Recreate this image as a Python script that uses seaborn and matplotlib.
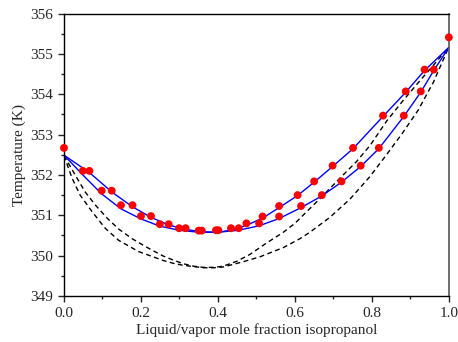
import matplotlib
matplotlib.use("Agg")
import matplotlib.pyplot as plt
import numpy as np
import pandas as pd
import seaborn as sns
from matplotlib.ticker import MultipleLocator

# experimental points (pairs of liquid / vapor compositions at one temperature)
exp_T = [352.67, 352.10, 351.61, 351.25, 350.98, 350.78, 350.68, 350.62, 350.63,
         350.68, 350.80, 350.97, 351.23, 351.50, 351.84, 352.23, 352.67, 353.47,
         354.07, 354.61, 355.41]
exp_x1 = [0.000, 0.049, 0.098, 0.148, 0.200, 0.249, 0.299, 0.350, 0.395,
          0.434, 0.474, 0.516, 0.559, 0.607, 0.650, 0.698, 0.751, 0.829,
          0.888, 0.937, 1.000]
exp_x2 = [None, 0.066, 0.124, 0.178, 0.226, 0.272, 0.316, 0.358, 0.401,
          0.454, 0.507, 0.559, 0.616, 0.670, 0.721, 0.771, 0.818, 0.883,
          0.927, 0.961, None]

# model (blue, solid)
dew_x = [0.0, 0.066, 0.124, 0.178, 0.226, 0.272, 0.316, 0.358, 0.40, 0.434,
         0.474, 0.516, 0.559, 0.607, 0.650, 0.698, 0.751, 0.829, 0.888, 0.937, 1.0]
dew_T = [352.49, 352.06, 351.58, 351.21, 350.95, 350.76, 350.65, 350.59, 350.58, 350.63,
         350.75, 350.93, 351.19, 351.49, 351.82, 352.21, 352.65, 353.45, 354.05, 354.59, 355.16]
bub_x = [0.0, 0.049, 0.098, 0.148, 0.200, 0.249, 0.299, 0.350, 0.40, 0.454,
         0.507, 0.559, 0.616, 0.670, 0.721, 0.771, 0.818, 0.883, 0.927, 0.961, 1.0]
bub_T = [352.49, 352.00, 351.53, 351.16, 350.91, 350.73, 350.63, 350.58, 350.58, 350.63,
         350.74, 350.92, 351.19, 351.48, 351.82, 352.21, 352.65, 353.45, 354.05, 354.59, 355.16]

# model (black, dashed)
dash_up_x = [0.0, 0.029, 0.055, 0.081, 0.112, 0.142, 0.177, 0.211, 0.232, 0.258, 0.284,
             0.31, 0.336, 0.362, 0.39, 0.414, 0.449, 0.483, 0.526, 0.57, 0.60, 0.669, 0.717,
             0.76, 0.796, 0.838, 0.88, 0.92, 0.96, 1.0]
dash_up_T = [352.48, 352.00, 351.58, 351.26, 350.93, 350.66, 350.42, 350.23, 350.12, 349.99, 349.89,
             349.80, 349.74, 349.71, 349.71, 349.74, 349.86, 350.03, 350.31, 350.58, 350.80, 351.45, 351.92,
             352.33, 352.74, 353.33, 353.83, 354.28, 354.72, 355.17]
dash_lo_x = [0.0, 0.021, 0.042, 0.073, 0.107, 0.142, 0.194, 0.232, 0.258, 0.284, 0.31,
             0.336, 0.362, 0.39, 0.414, 0.466, 0.509, 0.57, 0.613, 0.639, 0.691, 0.743, 0.795,
             0.838, 0.879, 0.92, 0.96, 1.0]
dash_lo_T = [352.48, 351.92, 351.50, 351.09, 350.68, 350.38, 350.10, 349.97, 349.88, 349.81, 349.76,
             349.73, 349.70, 349.70, 349.72, 349.85, 349.97, 350.20, 350.42, 350.58, 350.95, 351.40, 351.96,
             352.50, 353.03, 353.60, 354.30, 355.17]

sns.set_style("ticks")
plt.rcParams["font.family"] = ["Liberation Serif", "DejaVu Serif"]
plt.rcParams["font.size"] = 10.5

fig = plt.figure(figsize=(4.58, 3.42), dpi=100)
ax = fig.add_axes([0.1397, 0.1345, 0.8403, 0.826])

for xs, ts in [(dash_up_x, dash_up_T), (dash_lo_x, dash_lo_T)]:
    sns.lineplot(x=xs, y=ts, ax=ax, color="black", linewidth=1.0,
                 linestyle=(0, (3.5, 2.5)), sort=False, estimator=None)
for xs, ts in [(dew_x, dew_T), (bub_x, bub_T)]:
    sns.lineplot(x=xs, y=ts, ax=ax, color="#0000ff", linewidth=1.0,
                 sort=False, estimator=None)

pts = pd.DataFrame({"x": exp_x1 + exp_x2, "T": exp_T + exp_T}).dropna()
sns.scatterplot(data=pts, x="x", y="T", ax=ax, color="#ff0000", s=32,
                edgecolor="none", zorder=5, clip_on=False)

ax.set_xlim(0, 1)
ax.set_ylim(349, 356)
ax.xaxis.set_major_locator(MultipleLocator(0.2))
ax.xaxis.set_minor_locator(MultipleLocator(0.1))
ax.yaxis.set_major_locator(MultipleLocator(1))
ax.yaxis.set_minor_locator(MultipleLocator(0.5))
ax.xaxis.set_major_formatter(matplotlib.ticker.FormatStrFormatter("%.1f"))
ax.tick_params(which="major", direction="out", length=4.5, width=1.0,
               labelsize=11, top=False, right=False)
ax.tick_params(which="minor", direction="out", length=2.5, width=1.0,
               top=False, right=False)

for side in ["left", "bottom", "top"]:
    ax.spines[side].set_color("black")
    ax.spines[side].set_linewidth(1.0)
ax.spines["right"].set_color("#555555")
ax.spines["right"].set_linewidth(1.2)

ax.set_xlabel("Liquid/vapor mole fraction isopropanol", fontsize=11, labelpad=2)
ax.set_ylabel("Temperature (K)", fontsize=11, labelpad=3)

fig.savefig("out.png", dpi=100)
